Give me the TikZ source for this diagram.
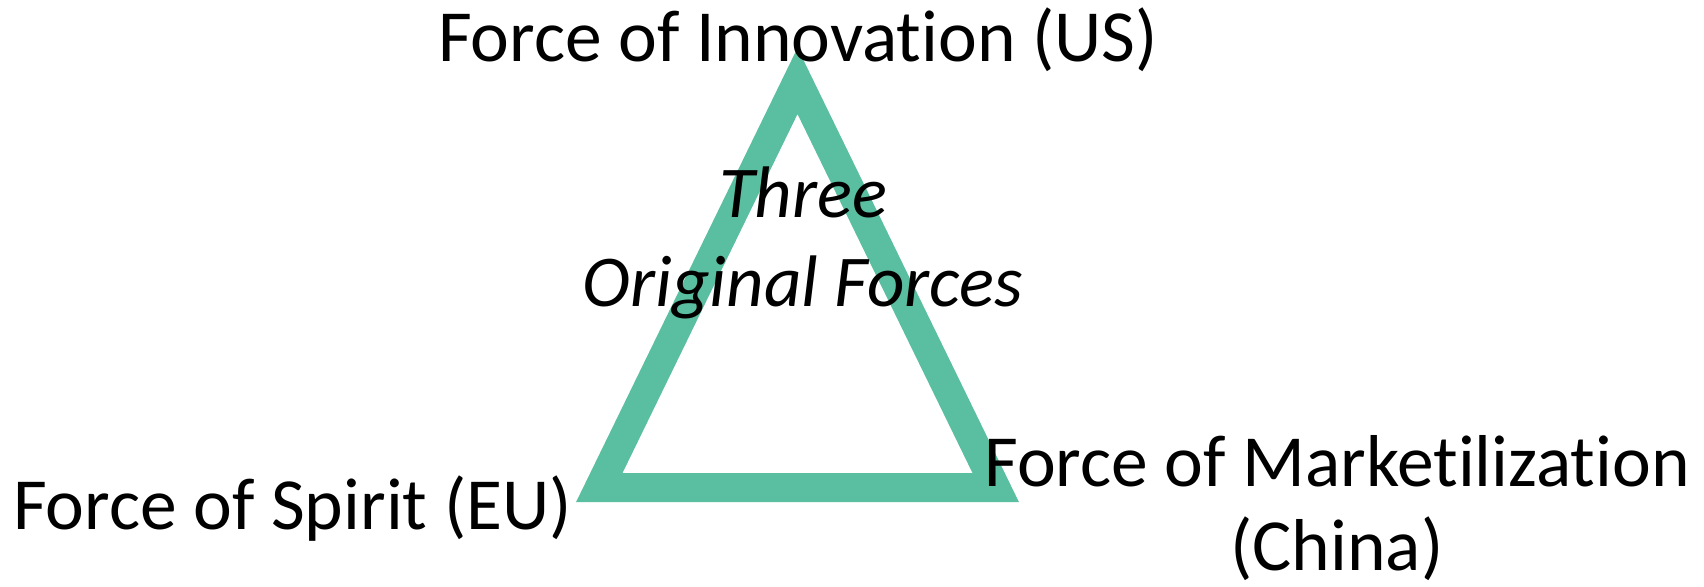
\documentclass[tikz,border=0pt]{standalone}
\usepackage{fontspec}
\setmainfont{Carlito}[Ligatures=NoCommon]
\definecolor{trigreen}{HTML}{5ABFA0}
\begin{document}
\begin{tikzpicture}[x=1pt,y=-1pt,
  lbl/.style={inner sep=0pt, font=\fontsize{73.5}{84}\selectfont},
  mid/.style={inner sep=0pt, align=center, font=\fontsize{73}{89}\selectfont\itshape}]
\useasboundingbox (0,0) rectangle (1704,586);
\coordinate (A) at (797.5,81);
\coordinate (B) at (599.3,487.5);
\coordinate (C) at (995.7,487.5);
\draw[trigreen, line width=29pt, line join=miter] (A) -- (B) -- (C) -- cycle;
\node[lbl, anchor=base] (us) at (798,62) {Force of Innovation (US)};
\node[lbl, anchor=base west] (eu) at (13,529) {Force of Spirit (EU)};
\node[lbl, anchor=base, align=center] (cn) at (1337,570) {Force of Marketilization\\(China)};
\node[mid, anchor=base] (t) at (803,306) {Three\\Original Forces};
\end{tikzpicture}
\end{document}
